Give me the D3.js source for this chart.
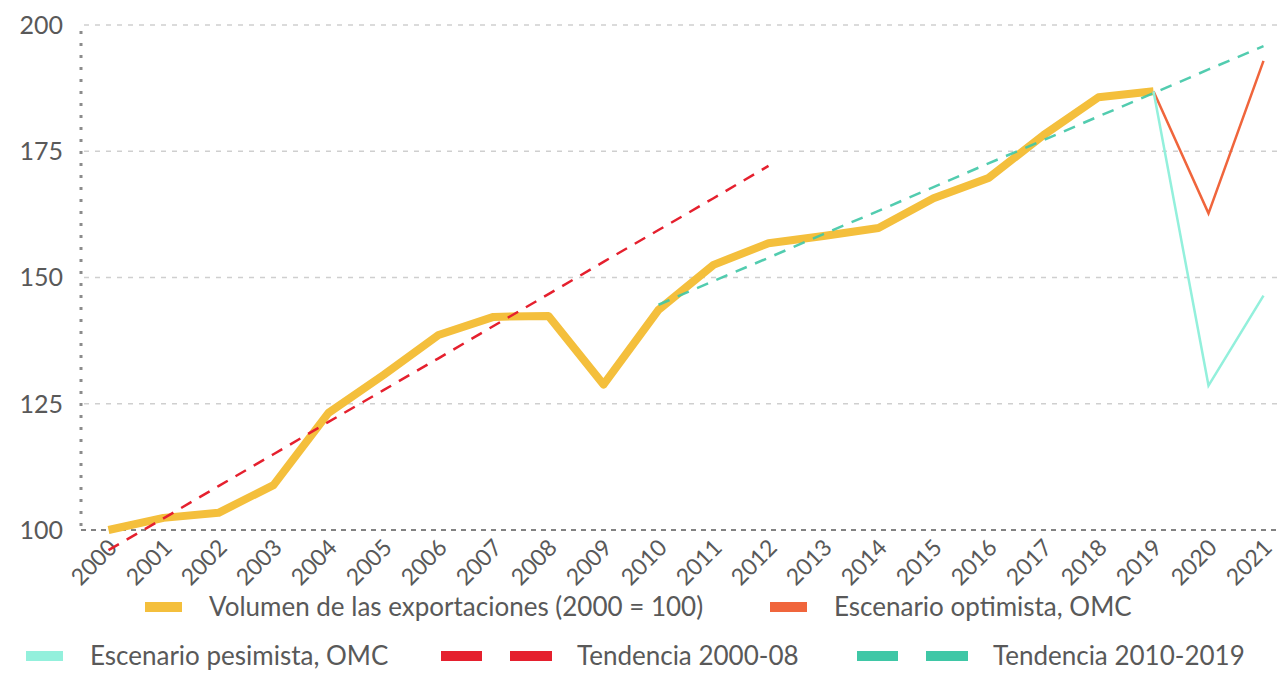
<!DOCTYPE html>
<html>
<meta charset="utf-8">
<title>Volumen de las exportaciones</title>
<style>
  body { margin: 0; background: #fff; }
  text { font-family: Lato, "Open Sans", sans-serif; fill: #595959; }
  .grid line { stroke: #cfcfcf; stroke-width: 1.5; stroke-dasharray: 5 6; }
</style>
<body>
<svg id="chart" width="1278" height="695"></svg>
<script src="https://d3js.org/d3.v7.min.js"></script>
<script>
// years on the x axis
var years = ["2000","2001","2002","2003","2004","2005","2006","2007","2008","2009","2010",
             "2011","2012","2013","2014","2015","2016","2017","2018","2019","2020","2021"];
var yTicks = [100, 125, 150, 175, 200];

// Volumen de las exportaciones (2000 = 100)
var volumen = [100, 102.4, 103.4, 108.9, 123.2, 130.7, 138.6, 142.2, 142.4, 128.8, 143.6,
               152.5, 156.8, 158.2, 159.8, 165.7, 169.7, 178.2, 185.7, 186.9];
// Tendencia 2000-08 (2000..2012)
var tendencia0008 = [96, 102.3, 108.7, 115.0, 121.4, 127.7, 134.0, 140.4, 146.7, 153.1, 159.4, 165.7, 172.1];
// Tendencia 2010-2019 (2010..2021)
var tendencia1019 = [144.6, 149.3, 153.9, 158.6, 163.2, 167.9, 172.6, 177.2, 181.9, 186.5, 191.2, 195.8];
// escenarios OMC (2019..2021)
var optimista = [186.9, 162.7, 192.9];
var pesimista = [186.9, 128.6, 146.4];

var svg = d3.select("#chart");

var x = d3.scaleBand().domain(years).range([81, 81 + 55 * years.length]);
var y = d3.scaleLinear().domain([100, 200]).range([530, 25]);
var cx = function(yr) { return x(yr) + x.bandwidth() / 2; };

// gridlines
svg.append("g").attr("class", "grid")
  .selectAll("line")
  .data(yTicks.filter(function(t) { return t > 100; }))
  .enter().append("line")
    .attr("x1", 84).attr("x2", 1278)
    .attr("y1", function(d) { return y(d); })
    .attr("y2", function(d) { return y(d); });

// base line and dotted y axis
svg.append("line")
  .attr("x1", 81).attr("x2", 1278).attr("y1", y(100)).attr("y2", y(100))
  .style("stroke", "#595959").style("stroke-width", 1.5).style("stroke-dasharray", "5 5");
svg.append("line")
  .attr("x1", 81).attr("x2", 81).attr("y1", y(200) + 6).attr("y2", y(100))
  .style("stroke", "#8c8c8c").style("stroke-width", 3).style("stroke-dasharray", "3 9");

// y tick labels
svg.append("g")
  .selectAll("text")
  .data(yTicks)
  .enter().append("text")
    .attr("x", 63)
    .attr("y", function(d) { return y(d); })
    .attr("dy", "0.35em")
    .attr("text-anchor", "end")
    .style("font-size", "25px")
    .text(function(d) { return d; });

// x tick labels
svg.append("g")
  .selectAll("text")
  .data(years)
  .enter().append("text")
    .attr("transform", function(d) { return "translate(" + (cx(d) + 10) + ",549) rotate(-45)"; })
    .attr("text-anchor", "end")
    .style("font-size", "23px")
    .text(function(d) { return d; });

function series(values, start) {
  var i0 = years.indexOf(start);
  return values.map(function(v, i) { return [years[i0 + i], v]; });
}

var line = d3.line()
  .x(function(d) { return cx(d[0]); })
  .y(function(d) { return y(d[1]); });

svg.append("path")
  .datum(series(volumen, "2000"))
  .attr("d", line)
  .style("fill", "none").style("stroke", "#f4bf3c").style("stroke-width", 8)
  .style("stroke-linejoin", "round");

svg.append("path")
  .datum(series(tendencia0008, "2000"))
  .attr("d", line)
  .style("fill", "none").style("stroke", "#e5202e").style("stroke-width", 2.5)
  .style("stroke-dasharray", "12 9");

svg.append("path")
  .datum(series(tendencia1019, "2010"))
  .attr("d", line)
  .style("fill", "none").style("stroke", "#3fc7a6").style("stroke-width", 2.5)
  .style("stroke-dasharray", "12 9").style("opacity", 0.9);

svg.append("path")
  .datum(series(optimista, "2019"))
  .attr("d", line)
  .style("fill", "none").style("stroke", "#f0653c").style("stroke-width", 2.5);

svg.append("path")
  .datum(series(pesimista, "2019"))
  .attr("d", line)
  .style("fill", "none").style("stroke", "#93f0dc").style("stroke-width", 2.5);

// legend
var legendItems = [
  {label: "Volumen de las exportaciones (2000 = 100)", color: "#f4bf3c", dashed: false, x: 145, y: 607},
  {label: "Escenario optimista, OMC", color: "#f0653c", dashed: false, x: 770, y: 607},
  {label: "Escenario pesimista, OMC", color: "#93f0dc", dashed: false, x: 26, y: 656},
  {label: "Tendencia 2000-08", color: "#e5202e", dashed: true, x: 441, y: 656},
  {label: "Tendencia 2010-2019", color: "#3fc7a6", dashed: true, x: 857, y: 656}
];

var lg = svg.append("g").selectAll("g")
  .data(legendItems)
  .enter().append("g")
    .attr("transform", function(d) { return "translate(" + d.x + "," + d.y + ")"; });

lg.append("rect")
  .attr("x", 0).attr("y", -5).attr("width", function(d) { return d.dashed ? 41 : 37; }).attr("height", 10)
  .style("fill", function(d) { return d.color; });
lg.filter(function(d) { return d.dashed; }).append("rect")
  .attr("x", 69).attr("y", -5).attr("width", 42).attr("height", 10)
  .style("fill", function(d) { return d.color; });

lg.append("text")
  .attr("x", function(d) { return d.dashed ? 136 : 64; })
  .attr("dy", "0.35em")
  .style("font-size", "26px")
  .text(function(d) { return d.label; });
</script>
</body>
</html>
